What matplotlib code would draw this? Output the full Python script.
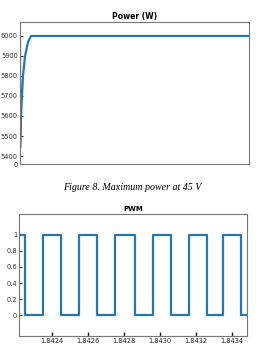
import matplotlib
matplotlib.use("Agg")
import matplotlib.pyplot as plt

# Power curve (time s, power W)
power_t = [0.0, 0.001, 0.009, 0.017, 0.026, 0.044, 0.07, 0.096, 2.0]
power_w = [6000, 5440, 5600, 5700, 5800, 5900, 5970, 6000, 6000]
power_yticks = [5360, 5400, 5500, 5600, 5700, 5800, 5900, 6000]
power_yticklabels = ["0", "5400", "5500", "5600", "5700", "5800", "5900", "6000"]

# PWM switching instants (s) and levels
pwm_t0 = 1.842217
pwm_t1 = 1.843483
pwm_edges = [1.84225, 1.84235, 1.84245, 1.84255, 1.84265, 1.84275, 1.84286,
             1.84296, 1.84306, 1.84316, 1.84326, 1.84335, 1.84345]
pwm_start_level = 1
pwm_yticks = [0, 0.2, 0.4, 0.6, 0.8, 1]
pwm_yticklabels = ["0", "0.2", "0.4", "0.6", "0.8", "1"]
pwm_xticks = [1.8424, 1.8426, 1.8428, 1.8430, 1.8432, 1.8434]
pwm_xticklabels = ["1.8424", "1.8426", "1.8428", "1.8430", "1.8432", "1.8434"]

blue = "#2576b6"
fig = plt.figure(figsize=(2.64, 3.6), dpi=100)
fig.patch.set_facecolor("white")

def style(ax):
    for s in ax.spines.values():
        s.set_linestyle((0, (1.5, 1)))
        s.set_color("#777777")
        s.set_linewidth(0.8)
    ax.tick_params(direction="in", length=2, width=0.8, labelsize=4.8,
                   colors="#333333", pad=1.5)

ax1 = fig.add_axes([0.0758, 0.5444, 0.8672, 0.3946])
ax1.plot(power_t, power_w, color=blue, lw=1.6)
ax1.set_xlim(0, 2)
ax1.set_ylim(5360, 6070)
ax1.set_yticks(power_yticks)
ax1.set_yticklabels(power_yticklabels)
ax1.set_xticks([])
style(ax1)
ax1.set_title("Power (W)", fontsize=5.5, fontweight="bold", pad=2)

fig.text(0.5, 1 - 188 / 360, "Figure 8. Maximum power at 45 V",
         ha="center", va="center", fontsize=7.2, style="italic",
         family="Liberation Serif")

# build step series
xs = [pwm_t0]
ys = [pwm_start_level]
lvl = pwm_start_level
for e in pwm_edges:
    xs += [e, e]
    ys += [lvl, 1 - lvl]
    lvl = 1 - lvl
xs.append(pwm_t1)
ys.append(lvl)

ax2 = fig.add_axes([0.072, 0.0667, 0.8636, 0.3389])
ax2.plot(xs, ys, color=blue, lw=1.6)
ax2.set_xlim(pwm_t0, pwm_t1)
ax2.set_ylim(-0.26, 1.26)
ax2.set_yticks(pwm_yticks)
ax2.set_yticklabels(pwm_yticklabels)
ax2.set_xticks(pwm_xticks)
ax2.set_xticklabels(pwm_xticklabels)
style(ax2)
ax2.tick_params(axis="x", length=3, width=1, colors="#222222", labelsize=4.8)
ax2.set_title("PWM", fontsize=5, fontweight="bold", pad=2)

fig.savefig("out.png", dpi=100)
